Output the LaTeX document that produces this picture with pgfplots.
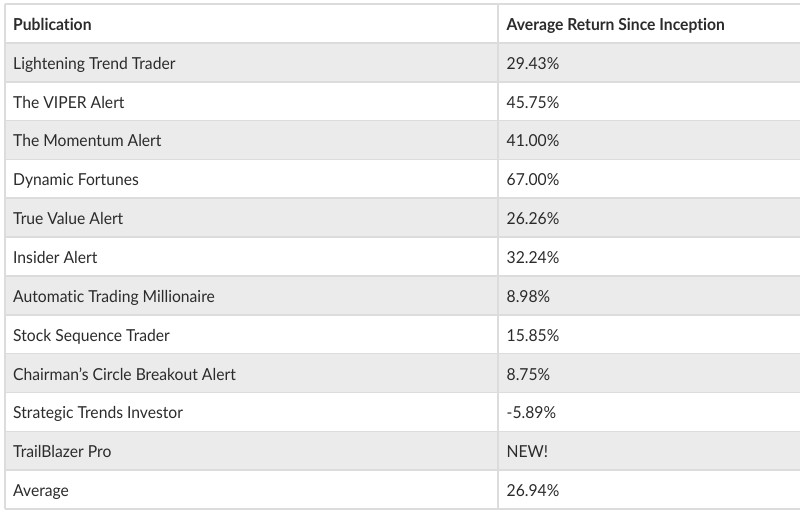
\documentclass[border=0pt]{standalone}
\usepackage{pgfplots}
\pgfplotsset{compat=1.18}
\usepackage{fontspec}
\setmainfont{Lato}[FakeStretch=0.95, Ligatures=NoCommon]
\definecolor{rowgray}{HTML}{EBEBEB}
\definecolor{linegray}{HTML}{DCDCDC}
\definecolor{txt}{HTML}{2B2B2B}
\begin{document}
\begin{tikzpicture}
\begin{axis}[
  name=ax,
  scale only axis, width=800pt, height=514pt,
  xmin=0, xmax=800, ymin=0, ymax=514, y dir=reverse,
  hide axis, clip=false,
]
% shaded rows (odd rows: 1,3,5,7,9,11)
\addplot[fill=rowgray, draw=none] coordinates {(5,42.85) (800,42.85) (800,81.7) (5,81.7)} -- cycle;
\addplot[fill=rowgray, draw=none] coordinates {(5,120.55) (800,120.55) (800,159.4) (5,159.4)} -- cycle;
\addplot[fill=rowgray, draw=none] coordinates {(5,198.25) (800,198.25) (800,237.1) (5,237.1)} -- cycle;
\addplot[fill=rowgray, draw=none] coordinates {(5,275.95) (800,275.95) (800,314.8) (5,314.8)} -- cycle;
\addplot[fill=rowgray, draw=none] coordinates {(5,353.65) (800,353.65) (800,392.5) (5,392.5)} -- cycle;
\addplot[fill=rowgray, draw=none] coordinates {(5,431.35) (800,431.35) (800,470.2) (5,470.2)} -- cycle;
% horizontal rules
\addplot[linegray, line width=1.6pt, unbounded coords=jump] table {
x y
5 4
800 4
nan nan
5 42.85
800 42.85
nan nan
5 81.7
800 81.7
nan nan
5 120.55
800 120.55
nan nan
5 159.4
800 159.4
nan nan
5 198.25
800 198.25
nan nan
5 237.1
800 237.1
nan nan
5 275.95
800 275.95
nan nan
5 314.8
800 314.8
nan nan
5 353.65
800 353.65
nan nan
5 392.5
800 392.5
nan nan
5 431.35
800 431.35
nan nan
5 470.2
800 470.2
nan nan
5 509
800 509
};
% vertical rules
\addplot[linegray, line width=1.6pt, unbounded coords=jump] table {
x y
5 4
5 509
nan nan
498 4
498 509
};
% header
\addplot[draw=none, mark=none, nodes near coords, point meta=explicit symbolic,
  nodes near coords style={anchor=base west, inner sep=0pt, font=\fontsize{16.5}{18}\selectfont\bfseries, text=txt}]
  table[meta=label, col sep=comma] {
x,y,label
13,30,Publication
506.5,30,Average Return Since Inception
};
% body
\addplot[draw=none, mark=none, nodes near coords, point meta=explicit symbolic,
  nodes near coords style={anchor=base west, inner sep=0pt, font=\fontsize{16.5}{18}\selectfont, text=txt}]
  table[meta=label, col sep=comma] {
x,y,label
13,69.2,Lightening Trend Trader
13,108.1,The VIPER Alert
13,146.9,The Momentum Alert
13,185.8,Dynamic Fortunes
13,224.6,True Value Alert
13,263.5,Insider Alert
13,302.3,Automatic Trading Millionaire
13,341.2,Stock Sequence Trader
13,380.0,Chairman’s Circle Breakout Alert
13,418.9,Strategic Trends Investor
13,457.7,TrailBlazer Pro
13,496.6,Average
};
\addplot[draw=none, mark=none, nodes near coords, point meta=explicit symbolic,
  nodes near coords style={anchor=base west, inner sep=0pt, font=\fontsize{16.5}{18}\selectfont, text=txt}]
  table[meta=label, col sep=comma] {
x,y,label
506.5,69.2,29.43\%
506.5,108.1,45.75\%
506.5,146.9,41.00\%
506.5,185.8,67.00\%
506.5,224.6,26.26\%
506.5,263.5,32.24\%
506.5,302.3,8.98\%
506.5,341.2,15.85\%
506.5,380.0,8.75\%
506.5,418.9,-5.89\%
506.5,457.7,NEW!
506.5,496.6,26.94\%
};
\end{axis}
\pgfresetboundingbox
\path (ax.south west) rectangle (ax.north east);
\end{tikzpicture}
\end{document}
